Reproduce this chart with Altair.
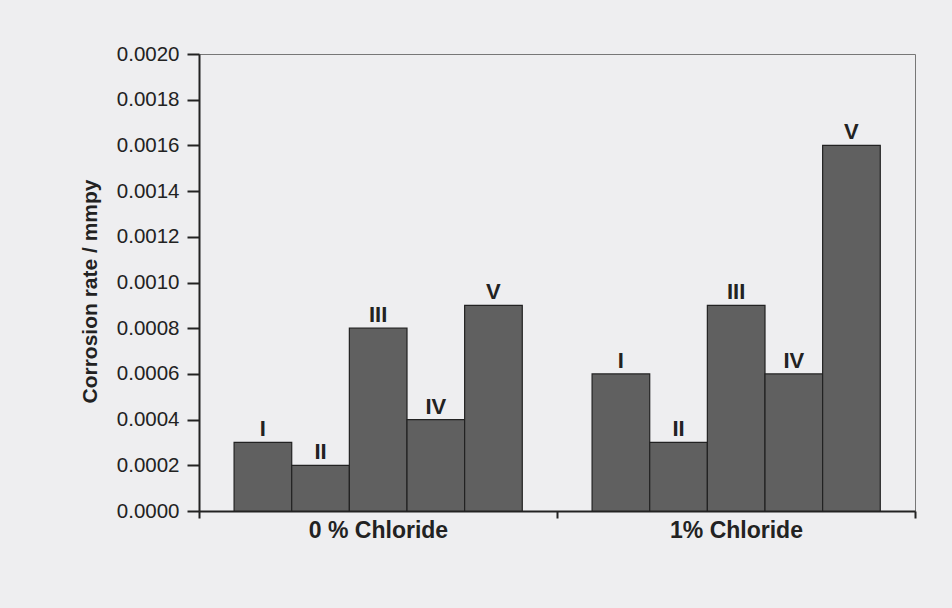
import altair as alt
import pandas as pd

# Corrosion rates (mmpy) for samples I–V, with and without chloride
groups = ["0 % Chloride", "1% Chloride"]
samples = ["I", "II", "III", "IV", "V"]
rate_0_chloride = [0.0003, 0.0002, 0.0008, 0.0004, 0.0009]
rate_1_chloride = [0.0006, 0.0003, 0.0009, 0.0006, 0.0016]

# Each group occupies one unit on the x scale; the five bars sit side by side
BAR_W = 0.161
GROUP_START = 0.098

rows = []
for g, values in enumerate([rate_0_chloride, rate_1_chloride]):
    for i, (s, v) in enumerate(zip(samples, values)):
        x0 = g + GROUP_START + i * BAR_W
        rows.append({"group": groups[g], "sample": s, "rate": v,
                     "x0": x0, "x1": x0 + BAR_W, "xc": x0 + BAR_W / 2})
df = pd.DataFrame(rows)

FONT = "Liberation Sans"
INK = "#222"

x_axis = alt.Axis(
    values=[0, 0.5, 1, 1.5, 2],
    labelExpr="datum.value == 0.5 ? '0 % Chloride' : (datum.value == 1.5 ? '1% Chloride' : '')",
    tickOpacity={"condition": {"test": "datum.value % 1 === 0", "value": 1}, "value": 0},
    tickSize=7, tickWidth=2, tickColor=INK,
    domainColor=INK, domainWidth=2,
    labelFont=FONT, labelFontSize=23, labelFontWeight="bold", labelColor=INK,
    labelPadding=1, grid=False, title=None,
)

y_ticks = [round(k * 0.0001, 4) for k in range(21)]
y_axis = alt.Axis(
    values=y_ticks,
    labelExpr="round(datum.value * 10000) % 2 === 0 ? format(datum.value, '.4f') : ''",
    tickSize={"condition": {"test": "round(datum.value * 10000) % 2 === 0", "value": 12}, "value": 6},
    tickWidth=2, tickColor=INK,
    domainColor=INK, domainWidth=2,
    labelFont=FONT, labelFontSize=20.5, labelColor=INK, labelPadding=8,
    title="Corrosion rate / mmpy", titleFont=FONT, titleFontSize=21,
    titleFontWeight="bold", titleColor=INK, titlePadding=16, titleY=237,
    grid=False,
)

base = alt.Chart(df)

bars = base.mark_bar(fill="#606060", stroke=INK, strokeWidth=1.2).encode(
    x=alt.X("x0:Q", scale=alt.Scale(domain=[0, 2], nice=False, zero=False), axis=x_axis),
    x2="x1:Q",
    y=alt.Y("rate:Q", scale=alt.Scale(domain=[0, 0.002], nice=False), axis=y_axis),
    y2=alt.datum(0),
)

labels = base.mark_text(
    font=FONT, fontSize=22, fontWeight="bold", color=INK,
    baseline="alphabetic", dy=-6,
).encode(
    x="xc:Q",
    y="rate:Q",
    text="sample:N",
)

chart = (
    alt.layer(bars, labels)
    .properties(
        width=716, height=457,
        background="#eeeef0",
        padding={"left": 199, "top": 54, "right": 37, "bottom": 97},
        autosize=alt.AutoSizeParams(type="none"),
    )
    .configure_view(stroke="#777", strokeWidth=1)
)

chart.save("out.html", embed_options={"renderer": "svg", "actions": False})
